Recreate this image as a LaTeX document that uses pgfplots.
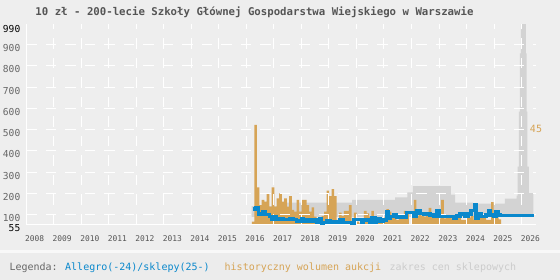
\documentclass[border=0pt]{standalone}
\usepackage{pgfplots}
\pgfplotsset{compat=1.18}
\usepackage{fontspec}
\setmainfont{DejaVu Sans Mono}
\definecolor{bgc}{HTML}{EEEEEE}
\definecolor{legbg}{HTML}{ECECEC}
\definecolor{blu}{HTML}{0A88CC}
\definecolor{ora}{HTML}{D6A456}
\definecolor{band}{HTML}{D3D3D3}
\definecolor{tgray}{HTML}{555555}
\definecolor{lgray}{HTML}{666666}
\definecolor{zgray}{HTML}{CCCCCC}
\pgfplotstableread{
x y
2016.200 68
2016.291 522
2016.381 229
2016.472 146
2016.562 170
2016.653 162
2016.743 201
2016.834 138
2016.924 229
2017.015 138
2017.105 177
2017.196 201
2017.286 162
2017.377 177
2017.467 138
2017.558 188
2017.648 123
2017.739 115
2017.829 170
2017.920 115
2018.010 170
2018.101 170
2018.191 146
2018.282 115
2018.372 135
2018.463 91
2018.553 76
2018.644 76
2018.734 94
2018.825 115
2018.915 213
2019.006 188
2019.096 221
2019.187 188
2019.277 76
2019.368 110
2019.458 94
2019.549 119
2019.639 119
2019.730 146
2019.820 68
2019.911 110
2020.001 68
2020.092 60
2020.182 68
2020.273 119
2020.363 107
2020.454 91
2020.544 119
2020.635 94
2020.725 83
2020.816 76
2020.906 83
2020.997 88
2021.087 127
2021.178 115
2021.268 99
2021.359 94
2021.449 76
2021.540 83
2021.630 83
2021.721 118
2021.811 107
2021.902 52
2021.992 94
2022.083 170
2022.173 94
2022.264 118
2022.354 94
2022.445 91
2022.535 107
2022.626 133
2022.716 91
2022.807 99
2022.897 107
2022.988 83
2023.078 170
2023.169 83
2023.259 91
2023.350 88
2023.440 83
2023.531 91
2023.621 88
2023.712 91
2023.802 76
2023.893 76
2023.983 94
2024.074 88
2024.164 94
2024.255 76
2024.345 94
2024.436 104
2024.526 88
2024.617 94
2024.707 76
2024.798 76
2024.888 159
2024.979 94
2025.069 88
2025.160 79
}\volume
\begin{document}
\begin{tikzpicture}[x=1pt,y=1pt]
\fill[bgc] (0,0) rectangle (560,280);
\fill[white!60!bgc] (0,27) rectangle (560,30);
\fill[legbg] (0,0) rectangle (560,27);
\pgfplotsset{myax/.style={at={(26pt,55.6pt)}, anchor=south west, scale only axis,
  width=510pt, height=200.2pt, xmin=2008, xmax=2026.52, ymin=55, ymax=995}}
\begin{axis}[myax, axis on top,
  axis x line*=bottom, axis y line*=left,
  axis line style={white, line width=1pt, -},
  major tick length=0pt,
  /pgf/number format/assume math mode=true,
  xtick={2008,2009,2010,2011,2012,2013,2014,2015,2016,2017,2018,2019,2020,2021,2022,2023,2024,2025,2026},
  xticklabels={2008,2009,2010,2011,2012,2013,2014,2015,2016,2017,2018,2019,2020,2021,2022,2023,2024,2025,2026},
  xticklabel style={anchor=center, inner sep=0pt, xshift=8.7pt, yshift=-14.3pt, font=\fontsize{7.9}{9}\selectfont, text=tgray},
  ytick={100,200,300,400,500,600,700,800,900},
  yticklabels={100,200,300,400,500,600,700,800,900},
  yticklabel style={anchor=east, inner sep=0pt, xshift=-5.5pt, yshift=-3.5pt, font=\fontsize{9.6}{11}\selectfont, text=lgray},
  extra y ticks={55,990},
  extra y tick labels={55,990},
  extra y tick style={grid=none, yticklabel style={text=black}},
  grid=major,
  major grid style={white, line width=1pt, dash pattern=on 10.5pt off 9pt},
]
% shop price range (gray band)
\addplot[draw=none, fill=band] coordinates {
(2016.195,90) (2016.195,141) (2017.22,141) (2017.22,157) (2019.84,157) (2019.84,170)
(2021.40,170) (2021.40,182) (2021.85,182) (2021.85,205) (2022.05,205) (2022.05,235)
(2023.43,235) (2023.43,195) (2023.58,195) (2023.58,157) (2024.23,157) (2024.23,152)
(2025.39,152) (2025.39,176) (2025.818,176) (2025.818,190) (2025.854,190) (2025.854,326)
(2025.901,326) (2025.901,584) (2025.937,584) (2025.937,858) (2025.974,858) (2025.974,1000)
(2026.155,1000) (2026.155,858) (2026.181,858) (2026.181,584) (2026.210,584) (2026.210,326)
(2026.264,326) (2026.264,202) (2026.421,202) (2026.421,100) (2025.0,100) (2025.0,90) (2016.195,90)
};
% historical auction volume
\addplot[ybar, bar width=2.6pt, bar shift=1.25pt, draw=none, fill=ora] table[x=x, y=y] {\volume};
\end{axis}
\begin{axis}[myax, hide axis]
\addplot[blu, line width=3.2pt, const plot, mark=none] coordinates {
(2016.232,127)(2016.351,133)(2016.435,104)(2016.595,113)(2016.678,102)(2016.834,91)
(2016.922,78)(2017.041,91)(2017.103,78)(2017.223,84)(2017.343,78)(2017.586,84)
(2017.706,78)(2017.829,71)(2018.011,84)(2018.069,71)(2018.192,76)(2018.312,68)
(2018.432,76)(2018.556,63)(2018.650,84)(2018.737,62)(2018.795,65)(2018.919,71)
(2019.038,65)(2019.158,68)(2019.282,63)(2019.402,76)(2019.521,65)(2019.826,62)
(2019.910,78)(2020.190,63)(2020.248,76)(2020.491,63)(2020.553,88)(2020.672,63)
(2020.734,80)(2020.854,68)(2020.974,76)(2021.097,115)(2021.155,84)(2021.243,91)
(2021.337,99)(2021.460,88)(2021.580,91)(2021.700,88)(2021.824,112)(2022.063,91)
(2022.187,119)(2022.306,107)(2022.426,104)(2022.550,107)(2022.670,99)(2022.789,91)
(2022.913,119)(2023.007,91)(2023.516,84)(2023.639,94)(2023.759,104)(2023.940,94)
(2024.060,104)(2024.158,119)(2024.278,146)(2024.340,84)(2024.423,107)(2024.521,91)
(2024.703,99)(2024.786,118)(2024.874,99)(2024.968,91)(2025.066,115)(2025.149,99)
(2025.211,98)(2026.446,98)
};
\end{axis}
\node[text=tgray, font=\bfseries\fontsize{10.7}{13}\selectfont] at (254.5,267.5)
  {10 zł - 200-lecie Szkoły Głównej Gospodarstwa Wiejskiego w Warszawie};
\node[text=ora, font=\fontsize{10}{12}\selectfont, inner sep=0pt] at (536,151.5) {45};
\node[anchor=west, inner sep=0pt, text=lgray, font=\fontsize{10}{12}\selectfont] at (9.3,12.5) {Legenda:};
\node[anchor=west, inner sep=0pt, text=blu, font=\fontsize{10}{12}\selectfont] at (65,12.5) {Allegro(-24)/sklepy(25-)};
\node[anchor=west, inner sep=0pt, text=ora, font=\fontsize{10}{12}\selectfont] at (224.5,12.5) {historyczny wolumen aukcji};
\node[anchor=west, inner sep=0pt, text=zgray, font=\fontsize{10}{12}\selectfont] at (389.5,12.5) {zakres cen sklepowych};
\end{tikzpicture}
\end{document}
